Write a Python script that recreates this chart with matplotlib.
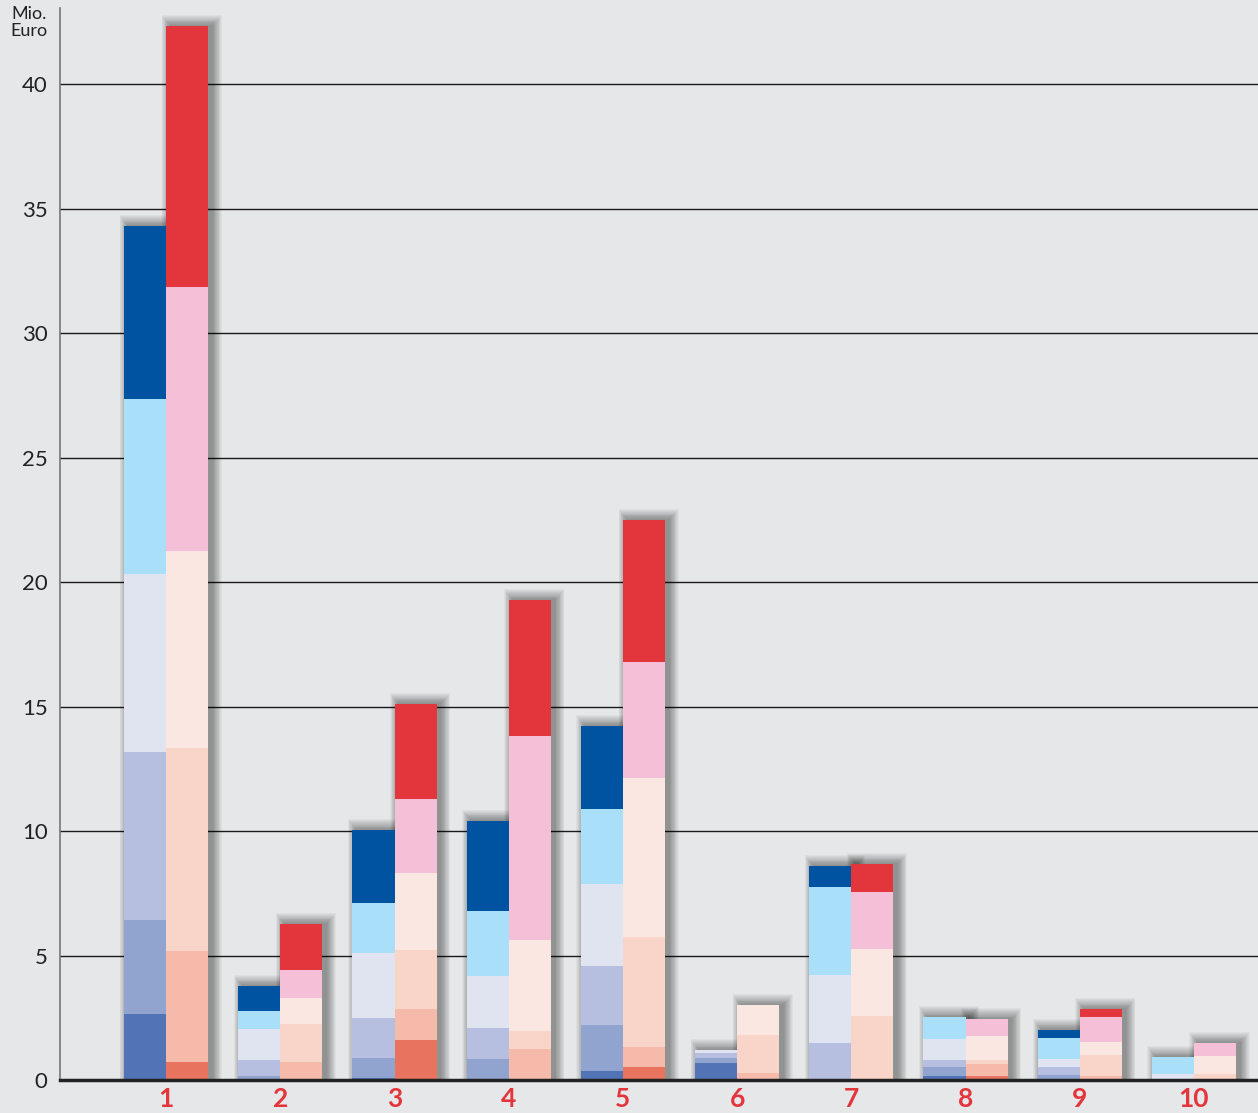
#!/usr/bin/env python3
"""
Paired stacked bars (blue vs red), Mio. Euro per category
"""

import matplotlib
matplotlib.use("Agg")
import matplotlib.pyplot as plt
from matplotlib.patches import Rectangle
import numpy as np

categories = ["1", "2", "3", "4", "5", "6", "7", "8", "9", "10"]

# blue stack, bottom -> top
blue_l1 = [2.65, 0.02, 0.08, 0.03, 0.36, 0.68, 0.00, 0.16, 0.00, 0.00]
blue_l2 = [3.78, 0.14, 0.80, 0.81, 1.85, 0.20, 0.00, 0.36, 0.20, 0.00]
blue_l3 = [6.75, 0.64, 1.61, 1.25, 2.37, 0.19, 1.49, 0.28, 0.32, 0.00]
blue_l4 = [7.15, 1.25, 2.61, 2.09, 3.29, 0.13, 2.73, 0.85, 0.32, 0.24]
blue_l5 = [7.03, 0.72, 2.01, 2.61, 3.02, 0.00, 3.53, 0.87, 0.84, 0.68]
blue_l6 = [6.95, 1.01, 2.93, 3.62, 3.33, 0.00, 0.85, 0.00, 0.33, 0.00]

# red stack, bottom -> top
red_l1 = [0.72, 0.03, 1.61, 0.04, 0.52, 0.00, 0.00, 0.16, 0.00, 0.00]
red_l2 = [4.46, 0.69, 1.24, 1.21, 0.81, 0.28, 0.00, 0.48, 0.16, 0.00]
red_l3 = [8.16, 1.53, 2.37, 0.72, 4.42, 1.53, 2.57, 0.16, 0.84, 0.24]
red_l4 = [7.91, 1.04, 3.10, 3.65, 6.38, 1.20, 2.69, 0.97, 0.53, 0.72]
red_l5 = [10.61, 1.13, 2.97, 8.20, 4.66, 0.00, 2.29, 0.67, 1.00, 0.53]
red_l6 = [10.49, 1.85, 3.82, 5.46, 5.71, 0.00, 1.13, 0.00, 0.32, 0.00]

yticks = [0, 5, 10, 15, 20, 25, 30, 35, 40]

blue_colors = ["#5273b5", "#91a4cf", "#b6bfe0", "#dfe4f0", "#aadff9", "#0053a1"]
red_colors = ["#e8735f", "#f5baa9", "#f9d4c8", "#fbe7e1", "#f5bfd7", "#e3363c"]

BG = "#e6e7e9"
W, H = 1258, 1113


def draw_shadow(ax, x0, width, top, px_x, px_y):
    # soft grey halo around a bar, slightly shifted to the right
    for k in range(1, 13):
        ax.add_patch(Rectangle((x0 - k * 0.7 * px_x + 4 * px_x, 0),
                               width + k * 1.5 * px_x,
                               top + k * 0.9 * px_y,
                               facecolor="black", alpha=0.035,
                               edgecolor="none", zorder=2))


def main():
    fig = plt.figure(figsize=(W / 100, H / 100), dpi=100, facecolor=BG)
    ax = fig.add_axes([60 / W, 33 / H, 1 - 60 / W, (1080 - 8) / H])
    ax.set_facecolor(BG)

    x = np.arange(1, len(categories) + 1)
    xmin, xmax = 1 - 106 / 114, 10 + 64 / 114
    ymax = (1080 - 8) / 24.89
    ax.set_xlim(xmin, xmax)
    ax.set_ylim(0, ymax)
    px_x = (xmax - xmin) / (W - 60)
    px_y = ymax / (1080 - 8)

    width = 42 / 114
    blue = np.array([blue_l1, blue_l2, blue_l3, blue_l4, blue_l5, blue_l6])
    red = np.array([red_l1, red_l2, red_l3, red_l4, red_l5, red_l6])

    for yv in yticks[1:]:
        ax.axhline(yv, color="#1a1a1a", lw=1.0, zorder=1)

    for i, xc in enumerate(x):
        # red bar (right) first, then blue (left) whose shadow falls on it
        for vals, colors, x0 in ((red, red_colors, xc), (blue, blue_colors, xc - width)):
            draw_shadow(ax, x0, width, vals[:, i].sum(), px_x, px_y)
            ax.bar([x0], [vals[0, i]], width=width, align="edge",
                   color=colors[0], zorder=3, linewidth=0)
            bottom = vals[0, i]
            for j in range(1, 6):
                ax.bar([x0], [vals[j, i]], width=width, bottom=bottom,
                       align="edge", color=colors[j], zorder=3, linewidth=0)
                bottom += vals[j, i]

    ax.set_yticks(yticks)
    ax.set_yticklabels([str(v) for v in yticks], fontsize=16,
                       family="Lato", color="#222222")
    ax.set_xticks(x)
    ax.set_xticklabels(categories, fontsize=19, fontweight="bold",
                       family="Lato", color="#e3363c")
    ax.tick_params(axis="y", length=0, pad=9)
    ax.tick_params(axis="x", length=0, pad=5)

    for s in ("top", "right"):
        ax.spines[s].set_visible(False)
    ax.spines["left"].set_color("#777777")
    ax.spines["left"].set_linewidth(1.2)
    ax.spines["bottom"].set_color("#222222")
    ax.spines["bottom"].set_linewidth(2.5)
    ax.spines["bottom"].set_zorder(5)

    fig.text(47 / W, 1 - 6 / H, "Mio.\nEuro", ha="right", va="top",
             fontsize=13, family="Lato", color="#222222", linespacing=1.1,
             multialignment="right")

    fig.savefig("out.png", dpi=100, facecolor=BG)
    plt.close(fig)


if __name__ == "__main__":
    main()
